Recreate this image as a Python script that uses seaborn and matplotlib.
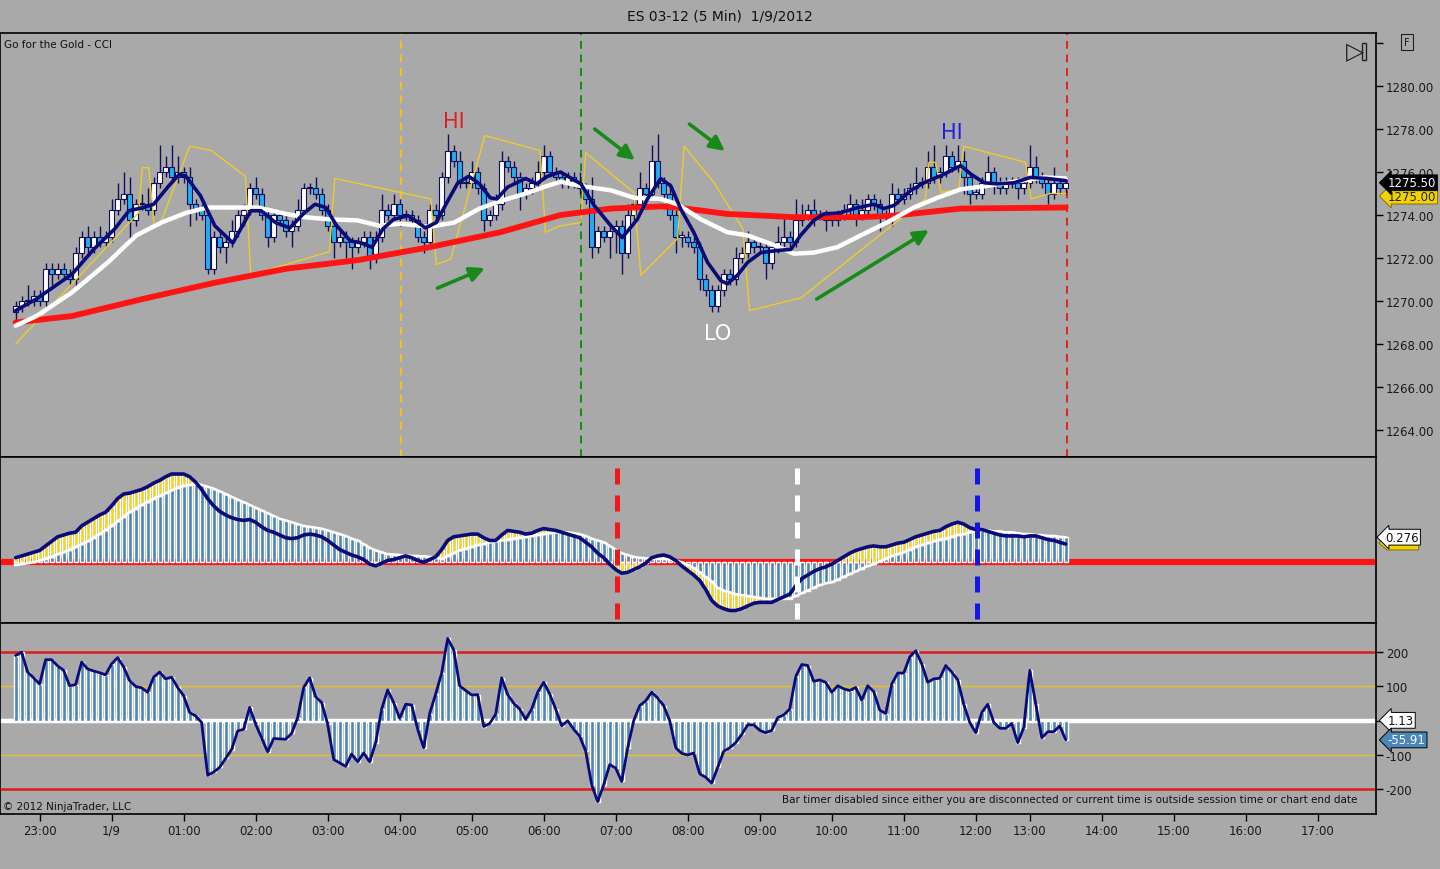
import numpy as np
import matplotlib
matplotlib.use("Agg")
import matplotlib.pyplot as plt
from matplotlib.patches import Rectangle, Polygon
import seaborn as sns

# ---------------- data ----------------
close = [
    1269.75, 1270.0, 1270.0, 1270.25, 1270.0, 1271.5, 1271.25, 1271.5, 1271.25, 1271.0,
    1272.25, 1273.0, 1272.5, 1273.0, 1272.75, 1273.0, 1274.25, 1274.75, 1275.0, 1273.75,
    1274.5, 1274.5, 1274.25, 1275.5, 1276.0, 1276.25, 1275.75, 1276.0, 1275.75, 1274.5,
    1274.25, 1274.0, 1271.5, 1273.0, 1272.5, 1272.75, 1273.25, 1274.0, 1274.25, 1275.25,
    1275.0, 1274.0, 1273.0, 1274.0, 1273.75, 1273.25, 1273.5, 1274.25, 1275.25, 1275.25,
    1275.0, 1274.25, 1273.5, 1272.75, 1273.0, 1272.75, 1272.5, 1272.75, 1273.0, 1272.0,
    1273.0, 1274.25, 1274.0, 1274.5, 1274.0, 1274.0, 1273.75, 1273.0, 1272.75, 1274.25,
    1274.0, 1275.75, 1277.0, 1276.5, 1275.5, 1275.5, 1276.0, 1275.25, 1273.75, 1274.0,
    1274.5, 1276.5, 1276.25, 1275.75, 1275.0, 1275.25, 1275.5, 1276.0, 1276.75, 1276.0,
    1275.75, 1275.5, 1275.75, 1275.5, 1275.25, 1274.75, 1272.5, 1273.25, 1273.0, 1273.25,
    1273.5, 1272.25, 1274.0, 1274.5, 1275.25, 1275.0, 1276.5, 1275.5, 1275.0, 1274.0,
    1273.0, 1273.0, 1272.75, 1272.5, 1271.0, 1270.5, 1269.75, 1270.5, 1271.25, 1271.0,
    1272.0, 1272.25, 1272.75, 1272.5, 1272.5, 1271.75, 1272.5, 1272.75, 1273.0, 1272.75,
    1273.75, 1274.0, 1274.25, 1274.0, 1274.0, 1273.75, 1273.75, 1274.0, 1274.25, 1274.5,
    1274.0, 1274.25, 1274.75, 1274.5, 1274.0, 1274.0, 1275.0, 1274.75, 1275.0, 1275.25,
    1275.5, 1275.5, 1276.25, 1275.75, 1276.0, 1276.75, 1276.25, 1276.5, 1275.75, 1275.0,
    1275.0, 1275.5, 1276.0, 1275.5, 1275.25, 1275.5, 1275.5, 1275.25, 1275.5, 1276.25,
    1275.75, 1275.5, 1275.0, 1275.5, 1275.25, 1275.5]

up_ticks = [
    1, 1, 3, 1, 1, 1, 1, 1, 1, 1,
    1, 1, 2, 1, 2, 1, 2, 3, 4, 3,
    1, 2, 3, 1, 5, 2, 4, 3, 1, 2,
    1, 1, 1, 1, 1, 1, 2, 1, 1, 1,
    2, 1, 1, 1, 1, 1, 1, 2, 1, 1,
    2, 1, 1, 1, 1, 1, 1, 1, 1, 1,
    1, 3, 1, 2, 1, 1, 1, 1, 1, 1,
    1, 1, 3, 1, 2, 1, 2, 1, 1, 1,
    2, 2, 1, 1, 1, 1, 1, 2, 2, 1,
    1, 1, 1, 1, 2, 1, 4, 1, 1, 1,
    1, 1, 2, 1, 3, 1, 3, 5, 1, 2,
    1, 1, 1, 1, 1, 1, 1, 1, 1, 1,
    2, 1, 2, 1, 1, 1, 1, 3, 4, 1,
    4, 2, 1, 2, 1, 1, 1, 1, 1, 2,
    1, 2, 1, 1, 1, 1, 2, 1, 1, 1,
    3, 1, 3, 4, 1, 2, 1, 3, 2, 1,
    1, 1, 3, 1, 1, 1, 1, 1, 1, 4,
    2, 1, 1, 3, 1, 1]

down_ticks = [
    2, 1, 1, 1, 1, 1, 2, 1, 1, 1,
    1, 1, 1, 1, 1, 1, 1, 1, 1, 4,
    1, 1, 1, 1, 1, 1, 1, 1, 1, 4,
    2, 1, 1, 1, 1, 3, 1, 1, 2, 1,
    1, 1, 2, 1, 1, 1, 3, 1, 1, 1,
    1, 1, 1, 3, 1, 3, 4, 1, 1, 2,
    1, 1, 1, 1, 2, 1, 1, 1, 2, 1,
    1, 1, 1, 1, 1, 1, 1, 1, 2, 1,
    1, 1, 1, 1, 3, 1, 1, 1, 1, 1,
    1, 1, 1, 1, 1, 1, 2, 1, 1, 4,
    4, 4, 1, 1, 1, 1, 1, 1, 1, 1,
    3, 2, 1, 1, 2, 1, 1, 1, 1, 1,
    1, 1, 1, 1, 1, 3, 1, 1, 1, 1,
    1, 1, 1, 2, 1, 2, 1, 1, 1, 1,
    2, 1, 1, 1, 3, 1, 2, 1, 1, 1,
    1, 1, 1, 1, 1, 1, 1, 1, 3, 2,
    1, 1, 1, 2, 1, 1, 1, 2, 1, 1,
    1, 1, 2, 1, 1, 1]

# fast (navy) moving average, read at these bar positions
fast_ma_bar = [0, 3.5, 9.4, 13, 16.5, 18.9, 21.3, 23, 25.5, 27.3,
               28.4, 30.8, 33.2, 36.2, 39.2, 40.9, 43.3, 45.7, 48.1, 49.9,
               51.7, 53.5, 55.8, 57.6, 59.4, 61.2, 63, 65.4, 66.8, 68.3,
               70.1, 71.9, 73.7, 75.5, 77.3, 79.1, 80.2, 82, 85, 86.8,
               88.6, 90.8, 94.2, 96.4, 99.2, 101.1, 103.6, 105.3, 107.5, 109.2,
               110.8, 113, 115.3, 117.5, 118.6, 120.3, 122, 124.2, 126.9, 129.2,
               130.8, 133, 134.7, 137.5, 139.7, 143, 144.7, 146.4, 149.2, 151.4,
               154.7, 157.5, 159.2, 161.4, 163.6, 166.4, 169.1, 171.9, 175]
fast_ma = [1269.55, 1270.1, 1271.25, 1272.4, 1273.35, 1274.2, 1274.35, 1274.5, 1275.35, 1275.9,
           1275.8, 1274.9, 1273.5, 1272.7, 1274.2, 1274.2, 1273.65, 1273.4, 1274.1, 1274.5,
           1274.35, 1273.5, 1272.8, 1272.7, 1272.5, 1273.35, 1273.8, 1273.97, 1273.7, 1273.4,
           1273.65, 1274.6, 1275.5, 1275.8, 1275.45, 1274.8, 1274.75, 1275.3, 1275.7, 1275.45,
           1275.8, 1276.0, 1275.45, 1274.45, 1273.5, 1272.95, 1273.8, 1274.75, 1275.7, 1275.35,
           1274.3, 1273.2, 1271.8, 1270.95, 1270.8, 1271.2, 1271.8, 1272.25, 1272.35, 1272.4,
           1273.05, 1273.75, 1274.05, 1274.1, 1274.3, 1274.5, 1274.3, 1274.45, 1275.15, 1275.5,
           1275.9, 1276.3, 1275.9, 1275.5, 1275.45, 1275.5, 1275.75, 1275.7, 1275.6]

mid_ma_bar = [0, 3.5, 9.4, 15.4, 20.1, 24.3, 28.4, 32, 36.2, 40.4,
              45.1, 48.1, 52.3, 57, 60.6, 64.2, 68.9, 73.1, 77.3, 80.8,
              85, 88, 90.8, 94.2, 99.2, 103.1, 107.5, 110.3, 114.2, 118.6,
              122, 126.4, 129.7, 133, 136.9, 140.8, 145.2, 149.7, 153.6, 157.5,
              161.9, 167.5, 171.4, 175]
mid_ma = [1268.85, 1269.3, 1270.4, 1271.8, 1273.05, 1273.65, 1274.1, 1274.35, 1274.35, 1274.35,
          1274.05, 1273.9, 1273.8, 1273.75, 1273.5, 1273.6, 1273.45, 1273.65, 1274.3, 1274.65,
          1275.0, 1275.3, 1275.55, 1275.35, 1275.15, 1274.8, 1274.75, 1274.5, 1273.8, 1273.2,
          1273.05, 1272.6, 1272.2, 1272.25, 1272.5, 1273.05, 1273.65, 1274.35, 1274.8, 1275.2,
          1275.35, 1275.6, 1275.75, 1275.7]

slow_ma_bar = [0, 9.4, 21.3, 33.2, 45.1, 57, 68.9, 80.8, 90.8, 99.2,
               107.5, 110.3, 118.6, 129.7, 140.8, 146.4, 157.5, 175]
slow_ma = [1269.0, 1269.3, 1270.1, 1270.85, 1271.5, 1271.9, 1272.5, 1273.2, 1274.0, 1274.3,
           1274.4, 1274.35, 1274.05, 1273.9, 1273.9, 1273.97, 1274.3, 1274.35]

band_bar = [0, 20.5, 21.1, 22.2, 23.1, 24, 29, 32.6, 38.3, 39.2,
            52.3, 53.2, 69.2, 70.1, 72.5, 78.2, 87.4, 88.3, 90.8, 94.2,
            95, 103, 104.2, 110.3, 111.4, 116.4, 121.2, 122.3, 130.9, 151.6,
            152.2, 153.3, 154.2, 157.2, 158, 168.3, 169.2, 172.4, 175]
band = [1268.0, 1274.1, 1276.2, 1276.2, 1273.5, 1273.5, 1277.2, 1277.0, 1275.8, 1271.2,
        1272.3, 1275.7, 1274.75, 1271.7, 1271.95, 1277.7, 1277.0, 1273.2, 1273.5, 1273.65,
        1276.9, 1275.05, 1271.2, 1272.9, 1277.2, 1275.5, 1273.35, 1269.55, 1270.15, 1274.75,
        1276.45, 1276.45, 1275.05, 1275.2, 1277.2, 1276.45, 1274.75, 1275.0, 1275.0]

osc_hist = [
    -0.03, -0.02, -0.01, 0.0, 0.02, 0.04, 0.06, 0.09, 0.11, 0.14,
    0.17, 0.2, 0.23, 0.27, 0.31, 0.35, 0.4, 0.45, 0.5, 0.55,
    0.59, 0.63, 0.66, 0.7, 0.73, 0.76, 0.79, 0.82, 0.84, 0.85,
    0.86, 0.85, 0.83, 0.81, 0.78, 0.75, 0.72, 0.69, 0.66, 0.63,
    0.6, 0.57, 0.54, 0.51, 0.48, 0.46, 0.44, 0.42, 0.4, 0.39,
    0.38, 0.37, 0.35, 0.33, 0.31, 0.29, 0.26, 0.24, 0.2, 0.16,
    0.13, 0.11, 0.09, 0.085, 0.08, 0.075, 0.07, 0.07, 0.066, 0.06,
    0.05, 0.04, 0.07, 0.1, 0.13, 0.15, 0.17, 0.19, 0.2, 0.22,
    0.23, 0.24, 0.25, 0.26, 0.27, 0.28, 0.29, 0.3, 0.31, 0.32,
    0.33, 0.33, 0.33, 0.32, 0.31, 0.29, 0.26, 0.24, 0.22, 0.18,
    0.14, 0.1, 0.08, 0.06, 0.05, 0.044, 0.04, 0.04, 0.04, 0.03,
    0.02, 0.0, -0.03, -0.06, -0.11, -0.16, -0.21, -0.28, -0.31, -0.33,
    -0.35, -0.36, -0.37, -0.38, -0.39, -0.4, -0.4, -0.4, -0.4, -0.4,
    -0.37, -0.34, -0.31, -0.28, -0.25, -0.23, -0.22, -0.19, -0.16, -0.13,
    -0.1, -0.07, -0.04, -0.02, 0.01, 0.04, 0.07, 0.09, 0.11, 0.14,
    0.17, 0.19, 0.21, 0.23, 0.25, 0.26, 0.28, 0.3, 0.31, 0.33,
    0.34, 0.35, 0.35, 0.34, 0.34, 0.33, 0.33, 0.32, 0.31, 0.31,
    0.3, 0.3, 0.29, 0.29, 0.28, 0.276]

osc_line = [
    0.05, 0.07, 0.09, 0.11, 0.13, 0.18, 0.23, 0.28, 0.3, 0.32,
    0.33, 0.4, 0.44, 0.48, 0.52, 0.55, 0.62, 0.7, 0.75, 0.76,
    0.78, 0.8, 0.83, 0.87, 0.9, 0.94, 0.97, 0.97, 0.97, 0.94,
    0.88, 0.8, 0.7, 0.62, 0.56, 0.52, 0.49, 0.47, 0.46, 0.47,
    0.44, 0.39, 0.35, 0.33, 0.3, 0.27, 0.26, 0.27, 0.3, 0.31,
    0.3, 0.28, 0.24, 0.19, 0.14, 0.11, 0.08, 0.06, 0.03, -0.02,
    -0.04, -0.01, 0.02, 0.03, 0.05, 0.07, 0.05, 0.02, 0.0, 0.03,
    0.06, 0.14, 0.24, 0.28, 0.29, 0.3, 0.31, 0.31, 0.27, 0.24,
    0.24, 0.3, 0.35, 0.34, 0.33, 0.31, 0.32, 0.35, 0.37, 0.36,
    0.35, 0.33, 0.31, 0.29, 0.27, 0.22, 0.17, 0.1, 0.05, -0.02,
    -0.08, -0.12, -0.11, -0.08, -0.05, -0.01, 0.05, 0.07, 0.08, 0.06,
    0.02, -0.04, -0.09, -0.14, -0.2, -0.3, -0.42, -0.48, -0.51, -0.53,
    -0.53, -0.51, -0.48, -0.45, -0.44, -0.44, -0.44, -0.41, -0.38, -0.35,
    -0.26, -0.18, -0.14, -0.1, -0.07, -0.05, -0.02, 0.02, 0.06, 0.1,
    0.13, 0.15, 0.17, 0.18, 0.17, 0.17, 0.19, 0.21, 0.22, 0.25,
    0.28, 0.3, 0.32, 0.34, 0.35, 0.39, 0.42, 0.44, 0.42, 0.38,
    0.36, 0.36, 0.34, 0.32, 0.3, 0.29, 0.29, 0.29, 0.28, 0.29,
    0.29, 0.27, 0.25, 0.24, 0.22, 0.2]

cci = [
    190, 200, 142, 125, 107, 178, 178, 160, 147, 102,
    105, 171, 151, 145, 140, 134, 166, 184, 157, 117,
    100, 96, 83, 127, 142, 122, 127, 97, 73, 24,
    14, -5, -159, -150, -136, -110, -84, -30, -25, 39,
    -10, -50, -91, -52, -53, -54, -37, 9, 97, 125,
    70, 53, -10, -113, -123, -133, -97, -120, -94, -120,
    -64, 34, 90, 53, 7, 48, 46, -25, -79, 21,
    78, 139, 240, 207, 102, 88, 75, 76, -17, -8,
    19, 125, 76, 51, 34, 4, 34, 83, 112, 78,
    34, -15, 0, -25, -45, -89, -187, -236, -187, -128,
    -138, -177, -79, 0, 44, 58, 83, 66, 44, 0,
    -79, -95, -100, -94, -155, -165, -182, -136, -89, -79,
    -64, -40, -12, -12, -28, -35, -28, 9, 17, 34,
    129, 164, 161, 115, 119, 112, 83, 102, 93, 88,
    97, 60, 102, 85, 31, 21, 107, 139, 139, 186,
    204, 166, 112, 122, 124, 161, 142, 119, 48, -5,
    -35, 24, 48, -5, -22, -22, -8, -64, -20, 147,
    48, -50, -32, -32, -15, -56]

# x-axis: bar slot of each hour label
hour_bar = [4, 16, 28, 40, 52, 64, 76, 88, 100, 112, 124, 136, 148, 160, 169, 181, 193, 205, 217]
hour_lab = ["23:00", "1/9", "01:00", "02:00", "03:00", "04:00", "05:00", "06:00", "07:00",
            "08:00", "09:00", "10:00", "11:00", "12:00", "13:00", "14:00", "15:00", "16:00", "17:00"]

# vertical markers (bar slots)
price_marks = [64.2, 94.2, 175.2]
price_mark_colors = ["#F2C21E", "#138A13", "#E82020"]
osc_marks = [100.2, 130.2, 160.2]
osc_mark_colors = ["#F01818", "#FFFFFF", "#1414E6"]

# annotations: (bar, price)
labels_txt = ["HI", "HI", "LO"]
labels_bar = [73, 156, 117]
labels_px = [1278.37, 1277.86, 1268.5]
labels_col = ["#E02020", "#1E1EE6", "#FFFFFF"]
arrow_tail_bar = [70.3, 96.5, 112.3, 133.5]
arrow_tail_px = [1270.6, 1278.0, 1278.23, 1270.09]
arrow_head_bar = [78.2, 103.2, 118.2, 152.2]
arrow_head_px = [1271.53, 1276.56, 1276.98, 1273.3]

last_price = 1275.50
last_band = 1275.00
last_osc = 0.276
cci_zero_val = 1.13
last_cci = -55.91

# ---------------- drawing ----------------
sns.set_theme(style="white")
plt.rcParams["font.family"] = ["DejaVu Sans"]

BG = "#A9A9A9"
WICK = "#0E0E5A"
STEEL = "#4A86B8"
NAVY = "#0A0A7A"

fig = plt.figure(figsize=(14.4, 8.7), dpi=100, facecolor=BG)
W = 1376 / 1440
ax1 = fig.add_axes([0, 412 / 870, W, 424 / 870], facecolor=BG)
ax2 = fig.add_axes([0, 246 / 870, W, 166 / 870], facecolor=BG, sharex=ax1)
ax3 = fig.add_axes([0, 55 / 870, W, 191 / 870], facecolor=BG, sharex=ax1)

for ax in (ax1, ax2, ax3):
    for s in ax.spines.values():
        s.set_color("black")
        s.set_linewidth(1.2)
    ax.grid(False)

c = np.array(close)
n = len(c)
idx = np.arange(n)
o = np.r_[c[0] - 0.25, c[:-1]]
hi = np.maximum(o, c) + np.array(up_ticks) * 0.25
lo = np.minimum(o, c) - np.array(down_ticks) * 0.25

# price panel
ax1.vlines(idx, lo, hi, color=WICK, lw=1.0, zorder=2)
rise = c >= o
h = np.where(np.abs(c - o) < 0.01, 0.05, c - o)
ax1.bar(idx[rise], h[rise], bottom=o[rise], width=0.86, color="white",
        edgecolor=WICK, linewidth=0.8, zorder=3)
ax1.bar(idx[~rise], h[~rise], bottom=o[~rise], width=0.86, color="#24AEF0",
        edgecolor=WICK, linewidth=0.8, zorder=3)

sns.lineplot(x=band_bar, y=band, ax=ax1, color="#EFCB2A", lw=1.0, sort=False,
             estimator=None, legend=False, zorder=4)
sns.lineplot(x=slow_ma_bar, y=slow_ma, ax=ax1, color="#FF1414", lw=4.2, sort=False,
             estimator=None, legend=False, zorder=5)
sns.lineplot(x=mid_ma_bar, y=mid_ma, ax=ax1, color="white", lw=3.2, sort=False,
             estimator=None, legend=False, zorder=5)
sns.lineplot(x=fast_ma_bar, y=fast_ma, ax=ax1, color=NAVY, lw=2.6, sort=False,
             estimator=None, legend=False, zorder=6)

for xm, cm in zip(price_marks, price_mark_colors):
    ax1.axvline(xm, color=cm, lw=1.4, ls=(0, (4, 3)), zorder=1.5)

for t, xb, yp, col in zip(labels_txt, labels_bar, labels_px, labels_col):
    ax1.text(xb, yp, t, color=col, fontsize=15, ha="center", va="center", zorder=8)

for tx, ty, hx, hy in zip(arrow_tail_bar, arrow_tail_px, arrow_head_bar, arrow_head_px):
    ax1.annotate("", xy=(hx, hy), xytext=(tx, ty), zorder=8,
                 arrowprops=dict(arrowstyle="-|>", color="#178A17", lw=2.6,
                                 mutation_scale=22, shrinkA=0, shrinkB=0))

ax1.set_ylim(1262.74, 1282.47)
ax1.yaxis.tick_right()
pticks = list(range(1264, 1283, 2))
ax1.set_yticks(pticks)
ax1.set_yticklabels([f"{v:.2f}" if v < 1282 else "" for v in pticks])
ax1.tick_params(axis="y", right=True, left=False, direction="out", length=5,
                width=1, color="black", labelsize=8.5, pad=2, labelcolor="#1A1A1A")
ax1.tick_params(axis="x", bottom=False, labelbottom=False)

ax1.text(0.003, 0.974, "Go for the Gold - CCI", transform=ax1.transAxes,
         fontsize=7.5, va="center", ha="left", color="#111111")
ax1.text(1355 / 1376, 1 - 18 / 424, "\u25B7", transform=ax1.transAxes, fontsize=17,
         ha="center", va="center", color="#222222")
ax1.add_patch(Rectangle((1362 / 1376, 1 - 27 / 424), 4 / 1376, 17 / 424,
                        transform=ax1.transAxes, fill=False, ec="#222222", lw=1,
                        clip_on=False))

ytr = ax1.get_yaxis_transform()
ax1.text(1.0085, last_band - 0.12, f"{last_band:.2f}", transform=ytr, fontsize=8.5,
         va="center", ha="left", color="#222222", zorder=9,
         bbox=dict(boxstyle="larrow,pad=0.12", fc="#F2D200", ec="#7A6400", lw=0.6))
ax1.text(1.0085, last_price, f"{last_price:.2f}", transform=ytr, fontsize=8.5,
         va="center", ha="left", color="white", zorder=10,
         bbox=dict(boxstyle="larrow,pad=0.12", fc="black", ec="black", lw=0.6))

# oscillator panel
hist = np.array(osc_hist)
line = np.array(osc_line)
ax2.axhline(0, color="#FF1414", lw=4.5, zorder=1.5)
ax2.bar(idx, hist, width=0.68, color=STEEL, zorder=2)
up_m = (line > hist) & (line > 0)
dn_m = (line < hist) & (line < 0)
bot = np.where(up_m, np.maximum(hist, 0), np.minimum(hist, 0))
m = up_m | dn_m
ax2.bar(idx[m], (line - bot)[m], bottom=bot[m], width=0.68, color="#F7D417", zorder=3)
sns.lineplot(x=idx, y=hist, ax=ax2, color="white", lw=1.8, estimator=None,
             legend=False, zorder=4)
sns.lineplot(x=idx, y=line, ax=ax2, color=NAVY, lw=2.6, estimator=None,
             legend=False, zorder=5)
for xm, cm in zip(osc_marks, osc_mark_colors):
    ax2.vlines(xm, -0.62, 1.06, colors=cm, lw=3.6, linestyles=(0, (3.2, 2.2)), zorder=6)
ax2.set_ylim(-0.667, 1.157)
ax2.tick_params(axis="both", left=False, right=False, bottom=False,
                labelleft=False, labelbottom=False)
ytr2 = ax2.get_yaxis_transform()
# yellow shadow under the value badge (shape only)
sc = last_osc - 0.065
sh_x = [1.0020, 1.0080, 1.0310, 1.0310, 1.0080]
sh_y = [sc, sc + 0.075, sc + 0.075, sc - 0.075, sc - 0.075]
ax2.add_patch(Polygon(list(zip(sh_x, sh_y)), closed=True, transform=ytr2,
                      fc="#F2D200", ec="#7A6400", lw=0.6, clip_on=False, zorder=7))
ax2.text(1.0068, last_osc, f"{last_osc:.3f}", transform=ytr2, fontsize=8.5,
         va="center", ha="left", color="#111111", zorder=9,
         bbox=dict(boxstyle="larrow,pad=0.12", fc="white", ec="black", lw=0.7))

# CCI panel
cv = np.array(cci, dtype=float)
ax3.axhline(0, color="white", lw=3.2, zorder=1.5)
for lvl, col, lw in [(200, "#E01A1A", 1.8), (-200, "#E01A1A", 1.8),
                     (100, "#E6C424", 1.0), (-100, "#E6C424", 1.0)]:
    ax3.axhline(lvl, color=col, lw=lw, zorder=1.4)
ax3.bar(idx, cv, width=0.68, color=STEEL, zorder=2)
sns.lineplot(x=idx, y=cv, ax=ax3, color=NAVY, lw=2.0, estimator=None,
             legend=False, zorder=5)
ax3.set_ylim(-272, 285)
ax3.yaxis.tick_right()
ax3.set_yticks([-200, -100, 0, 100, 200])
ax3.set_yticklabels(["-200", "-100", "", "100", "200"])
ax3.tick_params(axis="y", right=True, left=False, direction="out", length=5,
                width=1, color="black", labelsize=8.5, pad=2, labelcolor="#1A1A1A")
ax3.set_xticks(hour_bar)
ax3.set_xticklabels(hour_lab)
ax3.tick_params(axis="x", bottom=True, direction="out", length=5, width=1,
                color="black", labelsize=8.5, pad=2, labelcolor="#1A1A1A")
ax3.set_xlim(-2.6, 226.7)

ytr3 = ax3.get_yaxis_transform()
ax3.text(1.0085, cci_zero_val, f"{cci_zero_val:.2f}", transform=ytr3, fontsize=8.5,
         va="center", ha="left", color="#111111", zorder=9,
         bbox=dict(boxstyle="larrow,pad=0.12", fc="white", ec="black", lw=0.7))
ax3.text(1.0085, last_cci, f"{last_cci:.2f}", transform=ytr3, fontsize=8.5,
         va="center", ha="left", color="white", zorder=9,
         bbox=dict(boxstyle="larrow,pad=0.12", fc=STEEL, ec="black", lw=0.7))
ax3.text(0.002, 0.04, "\u00A9 2012 NinjaTrader, LLC", transform=ax3.transAxes,
         fontsize=7.5, ha="left", va="center", color="#111111")
ax3.text(1357 / 1376, 0.078,
         "Bar timer disabled since either you are disconnected or current time is outside session time or chart end date",
         transform=ax3.transAxes, fontsize=7.5, ha="right", va="center", color="#111111")

fig.text(0.5, 1 - 16 / 870, "ES 03-12 (5 Min)  1/9/2012", ha="center", va="center",
         fontsize=10, color="#111111")
fig.text(1407 / 1440, 1 - 43 / 870, "F", ha="center", va="center", fontsize=7,
         color="#111111", bbox=dict(boxstyle="square,pad=0.35", fc="none", ec="#222222", lw=0.8))

fig.savefig("out.png", dpi=100, facecolor=BG)
